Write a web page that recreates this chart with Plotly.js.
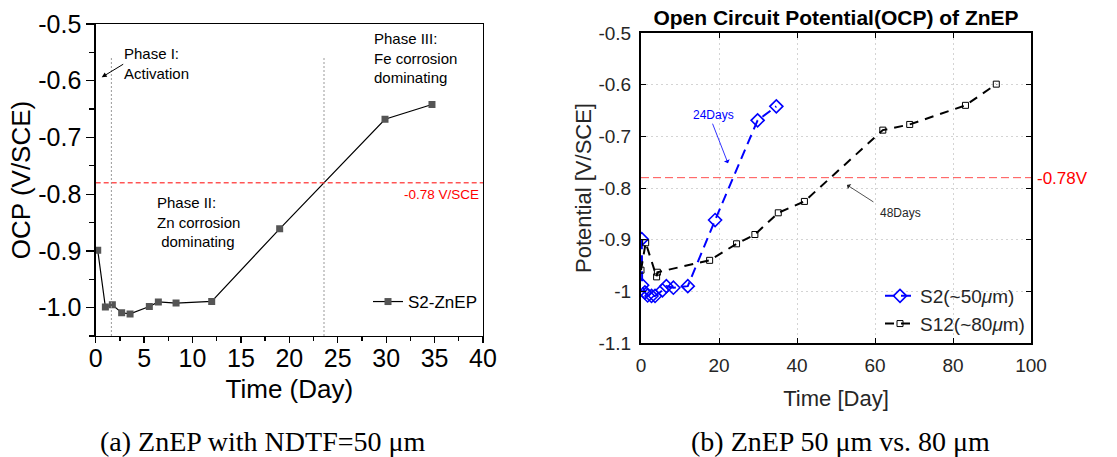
<!DOCTYPE html>
<html><head><meta charset="utf-8">
<script src="https://cdn.plot.ly/plotly-3.0.1.min.js"></script>
<style>html,body{margin:0;padding:0;background:#fff}#chart{width:1117px;height:457px}</style>
</head><body><div id="chart"></div>
<script>
// ---- (a) ZnEP with NDTF=50 um ----
const daysA = [0.21, 1.0, 1.72, 2.68, 3.55, 5.54, 6.47, 8.3, 11.98, 19.0, 29.88, 34.73];
const ocpA  = [-0.899, -0.999, -0.995, -1.009, -1.011, -0.998, -0.990, -0.992, -0.989, -0.861, -0.668, -0.642];
const phaseBounds = [1.62, 23.58];
const refA = -0.78;
const xTicksA = [0, 5, 10, 15, 20, 25, 30, 35, 40];
const xMinorA = [2.5, 7.5, 12.5, 17.5, 22.5, 27.5, 32.5, 37.5];
const yTicksA = [-1.0, -0.9, -0.8, -0.7, -0.6, -0.5];
const yTextA  = ['-1.0', '-0.9', '-0.8', '-0.7', '-0.6', '-0.5'];
const yMinorA = [-1.05, -0.95, -0.85, -0.75, -0.65, -0.55];

// ---- (b) ZnEP 50 um vs 80 um ----
const daysS2  = [0.2, 0.3, 1.0, 1.7, 2.7, 3.6, 5.5, 6.5, 8.3, 12.0, 19.0, 29.9, 34.7];
const ocpS2   = [-0.899, -0.988, -1.002, -1.008, -1.009, -1.009, -0.998, -0.990, -0.993, -0.990, -0.862, -0.669, -0.642];
const daysS12 = [0, 1.2, 4.0, 4.2, 17.6, 24.5, 29.2, 35.2, 41.9, 62.0, 68.9, 83.2, 91.1];
const ocpS12  = [-0.959, -0.906, -0.972, -0.963, -0.940, -0.908, -0.890, -0.848, -0.826, -0.688, -0.677, -0.640, -0.599];
const refB = -0.78;
const xTicksB = [0, 20, 40, 60, 80, 100];
const yTicksB = [-1.1, -1.0, -0.9, -0.8, -0.7, -0.6, -0.5];
const yTextB  = ['-1.1', '-1', '-0.9', '-0.8', '-0.7', '-0.6', '-0.5'];

const W = 1117, H = 457;
const px = v => v / W, py = v => 1 - v / H;
const SANS = 'Liberation Sans, Arial, sans-serif';
const SERIF = 'Liberation Serif, Times New Roman, serif';

const traces = [
  {x: daysA, y: ocpA, xaxis: 'x', yaxis: 'y', name: 'S2-ZnEP', mode: 'lines+markers',
   line: {color: '#000', width: 1.2}, marker: {symbol: 'square', size: 7, color: '#555'}, legend: 'legend'},
  {x: daysS2, y: ocpS2, xaxis: 'x2', yaxis: 'y2', name: 'S2(~50<i>μ</i>m)', mode: 'lines+markers',
   line: {color: '#0000ff', width: 2, dash: '10px,6px'},
   marker: {symbol: 'diamond-open', size: 10, color: '#0000ff', line: {width: 1.6}}, legend: 'legend2'},
  {x: daysS12, y: ocpS12, xaxis: 'x2', yaxis: 'y2', name: 'S12(~80<i>μ</i>m)', mode: 'lines+markers',
   line: {color: '#000', width: 2, dash: '9px,7px'},
   marker: {symbol: 'square-open', size: 6, color: '#000', line: {width: 1}}, legend: 'legend2'}
];

const axA = {showline: true, mirror: true, linecolor: '#000', linewidth: 1.3, ticks: 'outside',
  tickwidth: 1.3, tickcolor: '#000', showgrid: false, zeroline: false,
  tickfont: {family: SANS, size: 25, color: '#000'}};
const axB = {showline: true, mirror: 'ticks', linecolor: '#000', linewidth: 2, ticks: 'inside', ticklen: 5,
  tickwidth: 1, tickcolor: '#000', showgrid: true, gridcolor: '#d4d4d4', gridwidth: 1, griddash: '2px,3px',
  zeroline: false, tickfont: {family: SANS, size: 19, color: '#262626'}};

const layout = {
  width: W, height: H, margin: {l: 0, r: 0, t: 0, b: 0}, paper_bgcolor: '#fff', plot_bgcolor: '#fff',
  showlegend: true,
  title: {text: '<b>Open Circuit Potential(OCP) of ZnEP</b>', x: px(836), y: py(18), xanchor: 'center', yanchor: 'middle',
    font: {family: SANS, size: 21, color: '#000'}},
  xaxis: Object.assign({}, axA, {domain: [px(95.7), px(483)], range: [0, 40], anchor: 'y',
    tickmode: 'array', tickvals: xTicksA, ticklen: 6, ticklabelstandoff: -6,
    minor: {tickmode: 'array', tickvals: xMinorA, ticks: 'outside', ticklen: 4, tickwidth: 1.3, tickcolor: '#000'},
    title: {text: 'Time (Day)', font: {family: SANS, size: 26, color: '#000'}, standoff: 8}}),
  yaxis: Object.assign({}, axA, {domain: [py(336), py(24)], range: [-1.05, -0.5], anchor: 'x',
    tickmode: 'array', tickvals: yTicksA, ticktext: yTextA, ticklen: 8,
    minor: {tickmode: 'array', tickvals: yMinorA, ticks: 'outside', ticklen: 5, tickwidth: 1.3, tickcolor: '#000'},
    title: {text: 'OCP (V/SCE)', font: {family: SANS, size: 26, color: '#000'}, standoff: 0}}),
  xaxis2: Object.assign({}, axB, {domain: [px(641), px(1031)], range: [0, 100], anchor: 'y2',
    tickmode: 'array', tickvals: xTicksB, ticklabelstandoff: 4,
    title: {text: 'Time [Day]', font: {family: SANS, size: 22, color: '#262626'}, standoff: 16}}),
  yaxis2: Object.assign({}, axB, {domain: [py(343), py(33)], range: [-1.1, -0.5], anchor: 'x2',
    tickmode: 'array', tickvals: yTicksB, ticktext: yTextB, ticklabelstandoff: 4,
    title: {text: 'Potential [V/SCE]', font: {family: SANS, size: 22, color: '#262626'}, standoff: 1}}),
  legend: {x: px(368), y: py(302), xanchor: 'left', yanchor: 'middle', bgcolor: 'rgba(0,0,0,0)',
    font: {family: SANS, size: 17, color: '#000'}},
  legend2: {x: px(880), y: py(310), xanchor: 'left', yanchor: 'middle', bgcolor: 'rgba(0,0,0,0)',
    font: {family: SANS, size: 19, color: '#262626'}, tracegroupgap: 0},
  shapes: [
    {type: 'line', xref: 'x', yref: 'y', x0: phaseBounds[0], x1: phaseBounds[0], y0: -1.05, y1: -0.56,
     line: {color: '#999', width: 1, dash: '2px,2px'}},
    {type: 'line', xref: 'x', yref: 'y', x0: phaseBounds[1], x1: phaseBounds[1], y0: -1.05, y1: -0.56,
     line: {color: '#999', width: 1, dash: '2px,2px'}},
    {type: 'line', xref: 'x', yref: 'y', x0: 0, x1: 40, y0: refA, y1: refA,
     line: {color: '#ff0000', width: 1, dash: '5px,3px'}},
    {type: 'line', xref: 'x2', yref: 'y2', x0: 0, x1: 101, y0: refB, y1: refB,
     line: {color: '#ff5050', width: 1, dash: '8px,4px'}}
  ],
  annotations: [
    {xref: 'paper', yref: 'paper', x: px(122), y: py(63), xanchor: 'left', yanchor: 'middle', align: 'left', showarrow: false,
     text: 'Phase I:<br>Activation', font: {family: SANS, size: 15, color: '#000'}},
    {xref: 'x', yref: 'y', x: 0.62, y: -0.594, ax: 23, ay: -14, text: '', showarrow: true,
     arrowhead: 2, arrowsize: 1, arrowwidth: 1, arrowcolor: '#000'},
    {xref: 'paper', yref: 'paper', x: px(155), y: py(222), xanchor: 'left', yanchor: 'middle', align: 'left', showarrow: false,
     text: 'Phase II:<br>Zn corrosion<br> dominating', font: {family: SANS, size: 15, color: '#000'}},
    {xref: 'paper', yref: 'paper', x: px(372), y: py(58), xanchor: 'left', yanchor: 'middle', align: 'left', showarrow: false,
     text: 'Phase III:<br>Fe corrosion<br>dominating', font: {family: SANS, size: 15, color: '#000'}},
    {xref: 'paper', yref: 'paper', x: px(481), y: py(194), xanchor: 'right', yanchor: 'middle', showarrow: false,
     text: '-0.78 V/SCE', font: {family: SANS, size: 13.5, color: '#ff0000'}},
    {xref: 'paper', yref: 'paper', x: px(1035), y: py(178), xanchor: 'left', yanchor: 'middle', showarrow: false,
     text: '-0.78V', font: {family: SANS, size: 17, color: '#ff0000'}},
    {xref: 'paper', yref: 'paper', x: px(713), y: py(115), xanchor: 'center', yanchor: 'middle', showarrow: false,
     text: '24Days', font: {family: SANS, size: 12, color: '#0000ff'}},
    {xref: 'x2', yref: 'y2', x: 22.3, y: -0.752, ax: -16, ay: -41, text: '', showarrow: true,
     arrowhead: 1, arrowsize: 1.3, arrowwidth: 0.8, arrowcolor: '#0000ff'},
    {xref: 'paper', yref: 'paper', x: px(900), y: py(213), xanchor: 'center', yanchor: 'middle', showarrow: false,
     text: '48Days', font: {family: SANS, size: 12, color: '#262626'}},
    {xref: 'x2', yref: 'y2', x: 52.8, y: -0.794, ax: 28, ay: 18, text: '', showarrow: true,
     arrowhead: 1, arrowsize: 1.3, arrowwidth: 0.8, arrowcolor: '#262626'},
    {xref: 'paper', yref: 'paper', x: px(263), y: py(441), xanchor: 'center', yanchor: 'middle', showarrow: false,
     text: '(a) ZnEP with NDTF=50 μm', font: {family: SERIF, size: 28, color: '#000'}},
    {xref: 'paper', yref: 'paper', x: px(840), y: py(441), xanchor: 'center', yanchor: 'middle', showarrow: false,
     text: '(b) ZnEP 50 μm vs. 80 μm', font: {family: SERIF, size: 28, color: '#000'}}
  ]
};

Plotly.newPlot('chart', traces, layout, {staticPlot: true, displayModeBar: false});
</script></body></html>
